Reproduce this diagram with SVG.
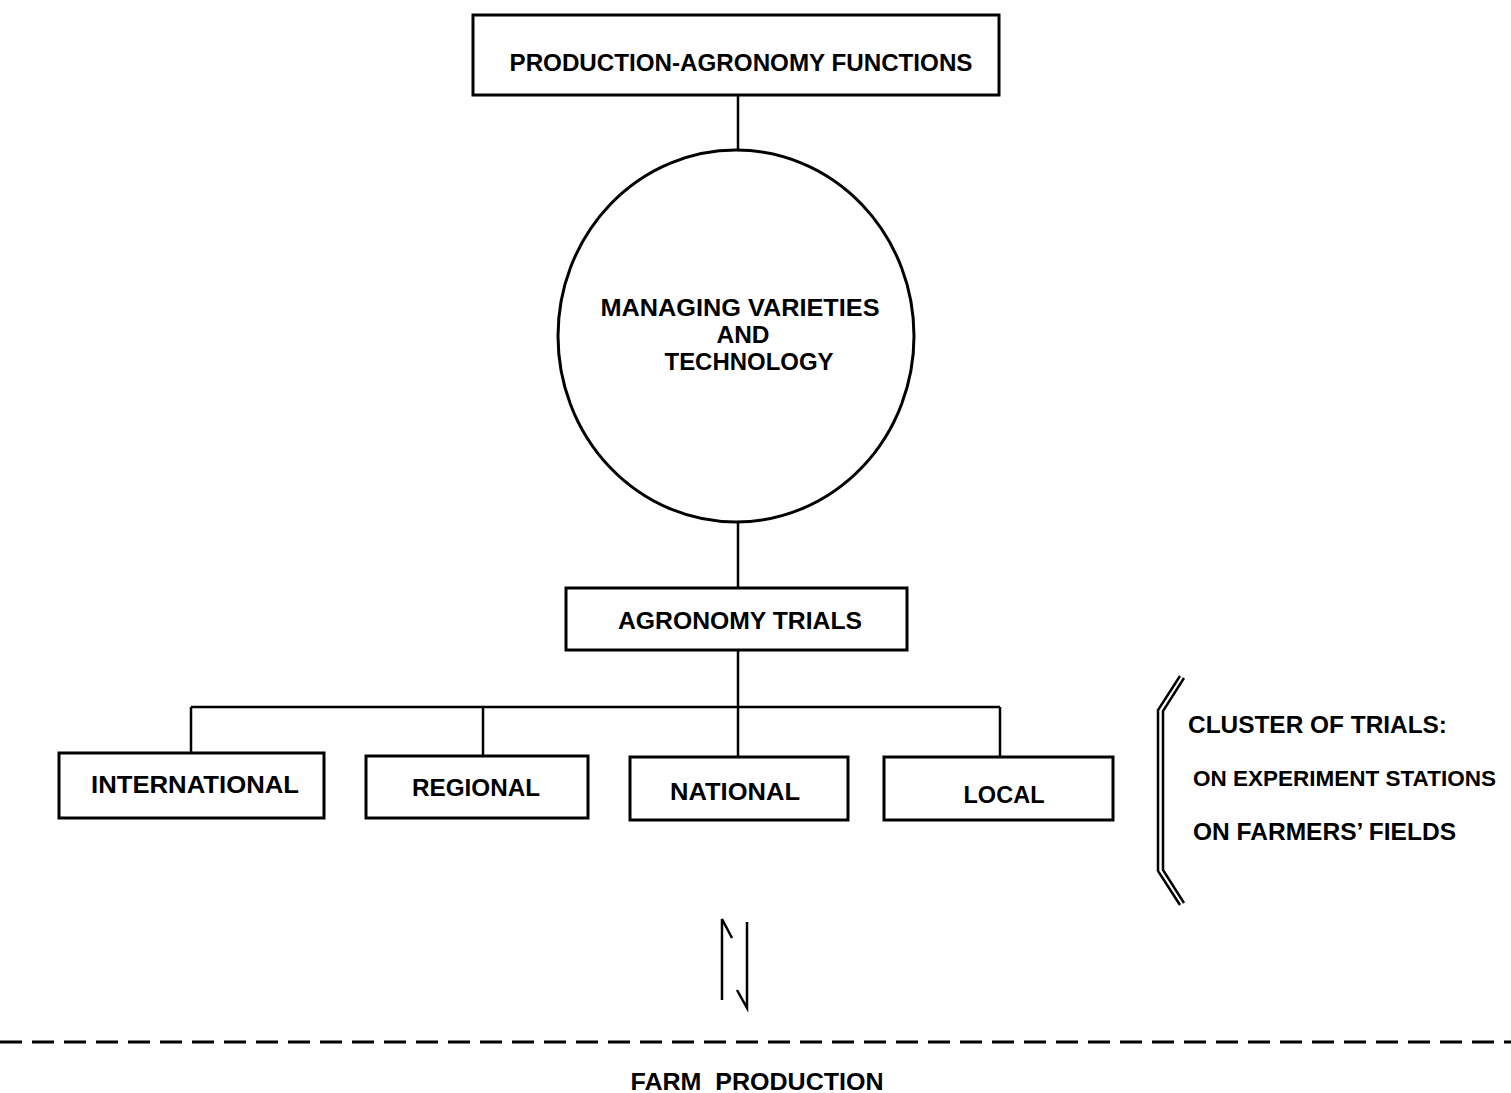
<svg xmlns="http://www.w3.org/2000/svg" width="1511" height="1093" viewBox="0 0 1511 1093">
<style>
.box{fill:#fff;stroke:#000;stroke-width:3}
.ln{fill:none;stroke:#000;stroke-width:2.5}
.t{font-family:"Liberation Sans",Arial,sans-serif;font-weight:bold;font-size:24px;fill:#000}
.m{text-anchor:middle}
</style>
<rect width="1511" height="1093" fill="#fff"/>
<g id="connectors">
<line class="ln" x1="738" y1="95" x2="738" y2="151"/>
<line class="ln" x1="738" y1="521" x2="738" y2="588"/>
<line class="ln" x1="738" y1="650" x2="738" y2="757"/>
<line class="ln" x1="191" y1="707" x2="1000" y2="707"/>
<line class="ln" x1="191" y1="707" x2="191" y2="753"/>
<line class="ln" x1="483" y1="707" x2="483" y2="756"/>
<line class="ln" x1="1000" y1="707" x2="1000" y2="757"/>
<path class="ln" d="M722 1000 V919 L732 938"/>
<path class="ln" d="M747 922 V1008 L737 990"/>
<line x1="0" y1="1042" x2="1511" y2="1042" stroke="#000" stroke-width="3" stroke-dasharray="22 10"/>
</g>
<g id="top">
<rect class="box" x="473" y="15" width="526" height="80"/>
<text class="t m" x="741" y="71" textLength="463" lengthAdjust="spacingAndGlyphs">PRODUCTION-AGRONOMY FUNCTIONS</text>
</g>
<g id="circle">
<ellipse cx="736" cy="336" rx="178" ry="186" fill="#fff" stroke="#000" stroke-width="3"/>
<text class="t m" x="740" y="316" textLength="279" lengthAdjust="spacingAndGlyphs">MANAGING VARIETIES</text>
<text class="t m" x="743" y="343" textLength="53" lengthAdjust="spacingAndGlyphs">AND</text>
<text class="t m" x="749" y="370" textLength="169" lengthAdjust="spacingAndGlyphs">TECHNOLOGY</text>
</g>
<g id="trials">
<rect class="box" x="566" y="588" width="341" height="62"/>
<text class="t m" x="740" y="629" textLength="244" lengthAdjust="spacingAndGlyphs">AGRONOMY TRIALS</text>
</g>
<g id="international">
<rect class="box" x="59" y="753" width="265" height="65"/>
<text class="t m" x="195" y="793" textLength="208" lengthAdjust="spacingAndGlyphs">INTERNATIONAL</text>
</g>
<g id="regional">
<rect class="box" x="366" y="756" width="222" height="62"/>
<text class="t m" x="476" y="796" textLength="128" lengthAdjust="spacingAndGlyphs">REGIONAL</text>
</g>
<g id="national">
<rect class="box" x="630" y="757" width="218" height="63"/>
<text class="t m" x="735" y="800" textLength="130" lengthAdjust="spacingAndGlyphs">NATIONAL</text>
</g>
<g id="local">
<rect class="box" x="884" y="757" width="229" height="63"/>
<text class="t m" x="1004" y="803" textLength="81" lengthAdjust="spacingAndGlyphs">LOCAL</text>
</g>
<g id="cluster">
<path class="ln" stroke-width="1.8" d="M1180 676 L1158 710 V871 L1180 905"/>
<path class="ln" stroke-width="1.8" d="M1184 678 L1163 711 V870 L1184 903"/>
<text class="t" x="1188" y="733" textLength="259" lengthAdjust="spacingAndGlyphs">CLUSTER OF TRIALS:</text>
<text class="t" x="1193" y="786" style="font-size:22.5px">ON EXPERIMENT STATIONS</text>
<text class="t" x="1193" y="840" textLength="263" lengthAdjust="spacingAndGlyphs">ON FARMERS’ FIELDS</text>
</g>
<g id="farm">
<text class="t m" x="757" y="1090" xml:space="preserve" textLength="253" lengthAdjust="spacingAndGlyphs">FARM  PRODUCTION</text>
</g>
</svg>
